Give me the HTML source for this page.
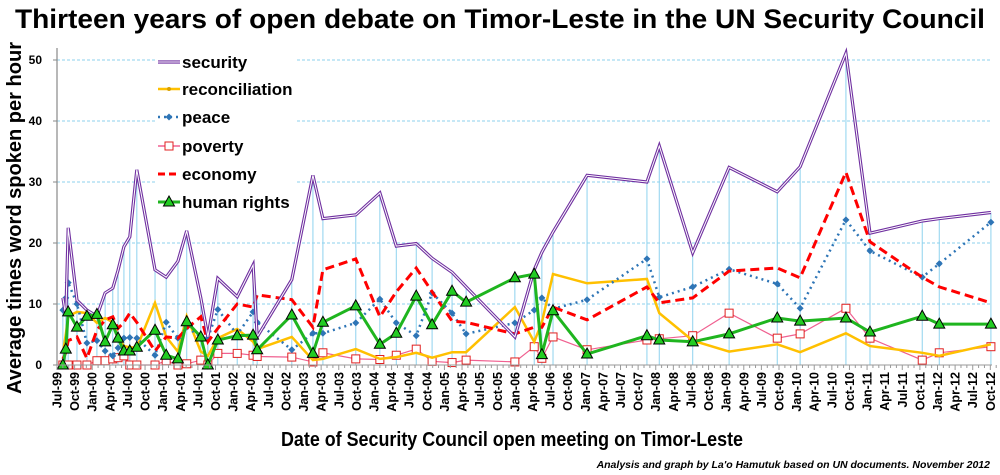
<!DOCTYPE html>
<html><head><meta charset="utf-8"><style>
html,body{margin:0;padding:0;background:#fff;}
svg{display:block;font-family:"Liberation Sans",sans-serif;}
</style></head><body>
<svg id="chart" width="1000" height="475" viewBox="0 0 1000 475">
<text x="500" y="28" text-anchor="middle" font-size="27" font-weight="bold" textLength="970" lengthAdjust="spacingAndGlyphs">Thirteen years of open debate on Timor-Leste in the UN Security Council</text>
<text transform="translate(21,218) rotate(-90)" text-anchor="middle" font-size="20" font-weight="bold" textLength="352" lengthAdjust="spacingAndGlyphs">Average times word spoken per hour</text>
<text x="512" y="446" text-anchor="middle" font-size="20" font-weight="bold" textLength="462" lengthAdjust="spacingAndGlyphs">Date of Security Council open meeting on Timor-Leste</text>
<text x="990" y="468" text-anchor="end" font-size="10.5" font-weight="bold" font-style="italic">Analysis and graph by La'o Hamutuk based on UN documents.  November 2012</text>
<g id="grid"></g><g id="drops"></g><g id="series"></g><g id="axes"></g>
<g id="legend"></g>
</svg>
<script>
const months = [1.0,1.5,1.9,3.4,5.1,6.8,8.2,9.5,10.4,11.4,12.4,13.6,16.7,18.6,20.6,22.1,24.5,25.7,27.4,30.7,33.4,34.1,40.0,43.6,45.3,50.9,55.0,57.8,61.2,63.9,67.3,69.7,78.0,81.3,82.6,84.5,90.3,100.5,102.6,108.3,114.5,122.7,126.6,134.4,138.5,147.4,150.3,159.1];
const security = [11,8,22.5,10.6,9,8,11.8,12.6,15.5,19.4,21,32,15.6,14.4,17,22,11,4.6,14.2,11.2,16.4,4.6,14,31.1,24,24.6,28.2,19.5,19.9,17.5,15.2,12.8,4.6,15.6,18.5,21.8,31.1,30,35.9,18.4,32.4,28.4,32.5,51.1,21.6,23.6,24,25];
const reconciliation = [2,5,8,8.7,8.5,6.9,7.7,7,4.6,3.1,2.9,2.8,10.2,4.6,2.2,8,2.2,1.5,4.4,5.9,3.8,2.6,4.6,0.8,1,2.6,1,1.3,2,1.2,2.1,2.1,9.5,3.8,7,14.9,13.4,14.1,8.5,4,2.2,3.4,2.1,5.2,3.1,2,1.5,3.4];
const peace = [9,11,13.5,10,3.6,4,2.3,1.5,2.8,4.4,4.5,4.4,1.6,7,4.4,6.2,4.6,4.4,9.1,5,8.7,7,2.5,5.2,5.2,6.9,10.8,6.9,4.8,11.8,8.5,5.1,6.9,9,11,9.2,10.7,17.4,11.1,12.8,15.7,13.3,9.3,23.8,18.7,14.4,16.6,23.4];
const poverty = [0,0,0,0,0,0.7,0.7,1,1.2,1.5,0,0,0,0.7,0,0.2,0.8,0,1.9,1.9,1.6,1.4,1.3,0.5,2,1,0.9,1.6,2.6,0.6,0.4,0.8,0.5,3,1.1,4.6,2.5,4.1,4.3,4.8,8.5,4.4,5.1,9.3,4.4,0.8,2,3];
const economy = [1,2,4,4.6,1.1,5.7,7.4,7.9,6,7,8.5,7,2.3,4.6,4.4,6,7.9,3.8,6,10,9.5,11.5,10.7,6.2,15.6,17.4,7.9,12,15.9,12,7.2,7,5.1,6.2,6.2,9.5,7.4,12.8,10.2,11,15.4,15.9,14.3,31.6,20.2,14.4,12.8,10.2];
const humanRights = [0,2.6,8.7,6.2,8,8.3,3.8,6.6,4.4,2.3,2.3,2.9,5.7,1.6,1,7.1,4.6,0,4.1,4.8,4.9,2.5,8.2,1.9,7,9.7,3.4,5.2,11.3,6.6,12.1,10.3,14.3,14.9,1.7,8.9,1.8,4.8,4.1,3.8,5.1,7.7,7.2,7.7,5.4,8,6.7,6.7];
const yTicks = [0,10,20,30,40,50];
const monthNames = ["Jan","Apr","Jul","Oct"];

const NS="http://www.w3.org/2000/svg";
const X0=57, PXM=5.87, Y0=365, PXU=6.1;
const xs=m=>X0+m*PXM, ys=v=>Y0-v*PXU;
function mk(tag,attrs,parent){const e=document.createElementNS(NS,tag);for(const k in attrs)e.setAttribute(k,attrs[k]);parent.appendChild(e);return e;}
const grid=document.getElementById('grid'),axes=document.getElementById('axes'),drops=document.getElementById('drops'),ser=document.getElementById('series'),leg=document.getElementById('legend');

yTicks.forEach(t=>{
  if(t>0){const g=mk('line',{x1:X0,x2:992,y1:ys(t),y2:ys(t),stroke:'#8ed2ee','stroke-width':1,'stroke-dasharray':'3,2'},grid);
  
  }
  const tl=mk('text',{x:42,y:ys(t)+4,'text-anchor':'end','font-size':12,'font-weight':'bold'},axes);
  tl.textContent=t;
  
  
  mk('line',{x1:X0-4,x2:X0,y1:ys(t),y2:ys(t),stroke:'#888'},axes);
});
mk('line',{x1:X0,x2:X0,y1:48,y2:Y0,stroke:'#888','stroke-width':1.2},axes);
mk('line',{x1:X0,x2:992,y1:Y0,y2:Y0,stroke:'#999','stroke-width':1},axes);
for(let m=0;m<=160;m++){mk('line',{x1:xs(m),x2:xs(m),y1:Y0,y2:Y0+(m%3==0?5:3),stroke:'#999'},axes);}
for(let m=0;m<=159;m+=3){
  const mo=(6+m)%12, yr=(1999+Math.floor((6+m)/12))%100;
  const lbl=monthNames[Math.floor(mo/3)]+'-'+String(yr).padStart(2,'0');
  const t=mk('text',{transform:`translate(${xs(m)+4.5},372) rotate(-90)`,'text-anchor':'end','font-size':12.5,'font-weight':'bold'},axes);
  t.textContent=lbl;
  
  
}
months.forEach((m,i)=>{
  const mx=Math.max(security[i],reconciliation[i],peace[i],poverty[i],economy[i],humanRights[i]);
  const d=mk('line',{x1:xs(m),x2:xs(m),y1:ys(mx),y2:Y0,stroke:'#8ed2ee','stroke-width':1},drops);
  
  
});
function pts(arr){return months.map((m,i)=>xs(m).toFixed(1)+','+ys(arr[i]).toFixed(1)).join(' ');}
const pov=mk('polyline',{points:pts(poverty),fill:'none',stroke:'#f06090','stroke-width':1.2},ser);


months.forEach((m,i)=>{const r=mk('rect',{x:xs(m)-4,y:ys(poverty[i])-4,width:8,height:8,fill:'#fff',stroke:'#e02020','stroke-width':1},ser);

});
const rec=mk('polyline',{points:pts(reconciliation),fill:'none',stroke:'#ffc000','stroke-width':2.5},ser);


const pe=mk('polyline',{points:pts(peace),fill:'none',stroke:'#2e75b6','stroke-width':2.5,'stroke-dasharray':'2,4'},ser);


months.forEach((m,i)=>{const x=xs(m),y=ys(peace[i]);const p=mk('polygon',{points:`${x},${y-3.5} ${x+3.5},${y} ${x},${y+3.5} ${x-3.5},${y}`,fill:'#2e75b6'},ser);

});
const ec=mk('polyline',{points:pts(economy),fill:'none',stroke:'#ff0000','stroke-width':3,'stroke-dasharray':'9,5'},ser);


const s1=mk('polyline',{points:pts(security),fill:'none',stroke:'#7030a0','stroke-width':3.2,'stroke-linejoin':'miter'},ser);


mk('polyline',{points:pts(security),fill:'none',stroke:'#fff','stroke-width':1},ser);
const hr=mk('polyline',{points:pts(humanRights),fill:'none',stroke:'#1fb51f','stroke-width':3},ser);


months.forEach((m,i)=>{const x=xs(m),y=ys(humanRights[i]);const t=mk('polygon',{points:`${x},${y-6} ${x+5.5},${y+4} ${x-5.5},${y+4}`,fill:'#22cc22',stroke:'#000','stroke-width':1},ser);

});
mk('rect',{x:155,y:50,width:142,height:165,fill:'#fff'},leg);
const names=['security','reconciliation','peace','poverty','economy','human rights'];
const ly=[62,89,117,146,174,202];
names.forEach((n,i)=>{
  const y=ly[i], g=mk('g',{},leg);
  
  
  if(i==0){mk('line',{x1:158,x2:180,y1:y,y2:y,stroke:'#7030a0','stroke-width':3.2},g);mk('line',{x1:158,x2:180,y1:y,y2:y,stroke:'#fff','stroke-width':1},g);}
  if(i==1){mk('line',{x1:158,x2:180,y1:y,y2:y,stroke:'#ffc000','stroke-width':2.5},g);mk('circle',{cx:169,cy:y,r:2,fill:'#d9a000'},g);}
  if(i==2){mk('line',{x1:158,x2:180,y1:y,y2:y,stroke:'#2e75b6','stroke-width':2.5,'stroke-dasharray':'2,4'},g);mk('polygon',{points:`169,${y-3.5} 172.5,${y} 169,${y+3.5} 165.5,${y}`,fill:'#2e75b6'},g);}
  if(i==3){mk('line',{x1:158,x2:180,y1:y,y2:y,stroke:'#f06090','stroke-width':1.5},g);mk('rect',{x:165,y:y-4,width:8,height:8,fill:'#fff',stroke:'#e02020'},g);}
  if(i==4){mk('line',{x1:158,x2:180,y1:y,y2:y,stroke:'#ff0000','stroke-width':3,'stroke-dasharray':'7,4'},g);}
  if(i==5){mk('line',{x1:158,x2:180,y1:y,y2:y,stroke:'#1fb51f','stroke-width':3},g);mk('polygon',{points:`169,${y-6} 174.5,${y+4} 163.5,${y+4}`,fill:'#22cc22',stroke:'#000'},g);}
  const t=mk('text',{x:182,y:y+6,'font-size':17,'font-weight':'bold'},g);t.textContent=n;
});
</script>
</body></html>
